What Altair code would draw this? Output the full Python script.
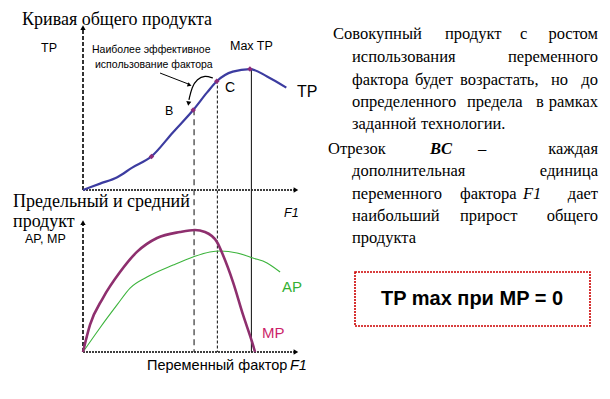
import altair as alt
import pandas as pd

# ---------------- data ----------------
tp_f1 = [0, 0.8, 1.6, 2.3, 3.2, 4.2, 5.15, 5.8, 6.25, 7.0, 7.8, 8.6, 9.5]
tp_val = [0, 4, 8, 14, 21, 36, 50, 61, 68, 74, 75.6, 71, 64]

tp_mark_f1 = [3.2, 5.15, 6.25, 7.8]
tp_mark_val = [21, 50, 68, 75.6]

mp_f1 = [0, 0.33, 0.93, 1.73, 2.52, 3.46, 4.53, 5.23, 5.7, 6.26, 6.54, 7.01, 7.48, 7.9, 8.04]
mp_val = [0, 21, 41.5, 61.5, 77, 87.7, 92.3, 93.8, 92.3, 84.6, 74.6, 53.8, 28.5, 7.7, 0]

ap_f1 = [0, 0.79, 1.59, 2.2, 2.99, 4.21, 5.14, 5.93, 6.4, 7.2, 7.94, 8.6, 9.21]
ap_val = [0, 18.5, 36.2, 49.2, 57.7, 66.9, 73.1, 76.9, 77.7, 76.2, 72.3, 68.5, 61.5]

guide_names = ["B", "C", "Max"]
guide_f1 = [5.19, 6.28, 7.87]
guide_tp = [50.5, 68.5, 75.6]

# annotation arrows (in F1 / TP units)
arrow1_f1 = [3.6, 4.91]
arrow1_tp = [73.1, 66.3]
arrow2_f1 = [6.07, 5.70, 5.33, 5.09, 4.95]
arrow2_tp = [70, 71.6, 69.4, 64.4, 56.3]

paragraph_lines = [
    ["Совокупный", "продукт", "с", "ростом"],
    ["использования", "переменного"],
    ["фактора", "будет", "возрастать,", "но", "до"],
    ["определенного", "предела", "в", "рамках"],
    ["заданной", "технологии."],
    ["Отрезок", "BC", "–", "каждая"],
    ["дополнительная", "единица"],
    ["переменного", "фактора", "F1", "дает"],
    ["наибольший", "прирост", "общего"],
    ["продукта"],
]

# ---------------- layout (pixels) ----------------
W, H = 594, 383
OFF = 8
XS = dict(domain=[0, 10], range=[75, 289])
YT = dict(domain=[0, 100], range=[182, 22])
YB = dict(domain=[0, 100], range=[344, 214])
BOTTOM_PX = 344

line_base = [39, 62, 85, 107, 129, 154, 176, 199, 221, 243]
word_x = [
    [333, 445, 520, None],
    [352, None],
    [352, 415, 460, 551, None],
    [352, 467, 536, None],
    [352, 421],
    [328, 430, 478, None],
    [352, None],
    [352, 460, 523, None],
    [352, 460, None],
    [352],
]
word_style = {(5, 1): "bolditalic", (7, 2): "italic"}
RIGHT_EDGE = 598


def X(field):
    return alt.X(field, type="quantitative", scale=alt.Scale(**XS), axis=None)


def Y(field, sc):
    return alt.Y(field, type="quantitative", scale=alt.Scale(**sc), axis=None)


df_tp = pd.DataFrame({"F1": tp_f1, "v": tp_val})
df_tpm = pd.DataFrame({"F1": tp_mark_f1, "v": tp_mark_val})
df_mp = pd.DataFrame({"F1": mp_f1, "v": mp_val})
df_ap = pd.DataFrame({"F1": ap_f1, "v": ap_val})
df_g = pd.DataFrame({"name": guide_names, "F1": guide_f1, "v": guide_tp})

layers = []

# axes (dashed, with arrow heads)
ax_x = pd.DataFrame({"a": [0], "b": [9.85], "v": [0]})
for sc, top in [(YT, 100), (YB, 98)]:
    layers.append(
        alt.Chart(pd.DataFrame({"F1": [0], "lo": [0], "hi": [top]}))
        .mark_rule(color="black", strokeWidth=1.6, strokeDash=[4, 2])
        .encode(x=X("F1"), y=Y("lo", sc), y2="hi")
    )
    layers.append(
        alt.Chart(ax_x)
        .mark_rule(color="black", strokeWidth=1.6, strokeDash=[2, 1])
        .encode(x=X("a"), x2="b", y=Y("v", sc))
    )
    layers.append(
        alt.Chart(pd.DataFrame({"F1": [0], "v": [top + 1.5]}))
        .mark_point(shape="triangle-up", filled=True, color="black", size=28, opacity=1)
        .encode(x=X("F1"), y=Y("v", sc))
    )
    layers.append(
        alt.Chart(pd.DataFrame({"F1": [9.95], "v": [0]}))
        .mark_point(shape="triangle-right", filled=True, color="black", size=28, opacity=1)
        .encode(x=X("F1"), y=Y("v", sc))
    )

# vertical guide lines
dash = {"B": [6, 4], "C": [3, 2], "Max": [1, 0]}
for name in guide_names:
    layers.append(
        alt.Chart(df_g[df_g["name"] == name])
        .mark_rule(color="#222222", strokeWidth=1.1, strokeDash=dash[name])
        .encode(x=X("F1"), y=Y("v", YT), y2=alt.value(BOTTOM_PX))
    )

# curves
layers.append(
    alt.Chart(df_tp).mark_line(color="#3c3ca0", strokeWidth=2.2, interpolate="monotone")
    .encode(x=X("F1"), y=Y("v", YT))
)
layers.append(
    alt.Chart(df_tpm).mark_point(shape="diamond", filled=True, color="#8b2b7b", size=30, opacity=1)
    .encode(x=X("F1"), y=Y("v", YT))
)
layers.append(
    alt.Chart(df_ap).mark_line(color="#3cb43c", strokeWidth=1.1, interpolate="monotone")
    .encode(x=X("F1"), y=Y("v", YB))
)
layers.append(
    alt.Chart(df_mp).mark_line(color="#8e2f6e", strokeWidth=2.6, interpolate="monotone")
    .encode(x=X("F1"), y=Y("v", YB))
)

# annotation arrows
layers.append(
    alt.Chart(pd.DataFrame({"F1": arrow1_f1, "v": arrow1_tp, "o": [0, 1]}))
    .mark_line(color="black", strokeWidth=1)
    .encode(x=X("F1"), y=Y("v", YT), order="o:Q")
)
layers.append(
    alt.Chart(pd.DataFrame({"F1": arrow2_f1, "v": arrow2_tp, "o": list(range(len(arrow2_f1)))}))
    .mark_line(color="black", strokeWidth=1.2, interpolate="basis")
    .encode(x=X("F1"), y=Y("v", YT), order="o:Q")
)
layers.append(
    alt.Chart(pd.DataFrame({"F1": [4.98], "v": [65.6]}))
    .mark_point(shape="triangle-up", angle=110, filled=True, color="black", size=22, opacity=1)
    .encode(x=X("F1"), y=Y("v", YT))
)
layers.append(
    alt.Chart(pd.DataFrame({"F1": [4.93], "v": [54.0]}))
    .mark_point(shape="triangle-up", angle=188, filled=True, color="black", size=26, opacity=1)
    .encode(x=X("F1"), y=Y("v", YT))
)


def label(text, x, y, size, font="Liberation Sans", color="black", align="left",
          weight="normal", style="normal"):
    return (
        alt.Chart(pd.DataFrame({"t": [text]}))
        .mark_text(font=font, fontSize=size, color=color, align=align, baseline="alphabetic",
                   fontWeight=weight, fontStyle=style)
        .encode(x=alt.value(x - OFF), y=alt.value(y - OFF), text="t:N")
    )


SERIF = "Liberation Serif"
layers += [
    label("Кривая общего  продукта", 22, 25, 18, font=SERIF),
    label("TP", 41, 52, 12.5),
    label("Наиболее эффективное", 92, 53, 10.5),
    label("использование фактора", 95, 68, 10.5),
    label("Max TP", 230, 50, 12.5),
    label("C", 225, 92, 14),
    label("B", 165, 115, 12.5),
    label("TP", 297, 97, 16),
    label("F1", 284, 217, 12.5, style="italic"),
    label("Предельный и средний", 13, 207, 18, font=SERIF),
    label("продукт", 13, 227, 18, font=SERIF),
    label("AP, MP", 25, 243, 12.5),
    label("AP", 282, 292, 15, color="#33b033"),
    label("MP", 262, 338, 15, color="#cc1f6b"),
    label("Переменный фактор", 147, 370, 14.5),
    label("F1", 290, 370, 14.5, style="italic"),
]

# right-hand paragraph (justified by placing words)
rows = []
for li, words in enumerate(paragraph_lines):
    for wi, w in enumerate(words):
        xv = word_x[li][wi]
        align = "left" if xv is not None else "right"
        px = (xv if xv is not None else RIGHT_EDGE) - OFF
        rows.append({"w": w, "px": px, "py": line_base[li] - OFF,
                     "style": word_style.get((li, wi), "normal"), "align": align})
df_words = pd.DataFrame(rows)
for (st, al), grp in df_words.groupby(["style", "align"]):
    layers.append(
        alt.Chart(grp)
        .mark_text(font=SERIF, fontSize=16.5, align=al, baseline="alphabetic", color="black",
                   fontWeight="bold" if "bold" in st else "normal",
                   fontStyle="italic" if "italic" in st else "normal")
        .encode(x=alt.X("px:Q", scale=None, axis=None), y=alt.Y("py:Q", scale=None, axis=None),
                text="w:N")
    )

# boxed statement
layers.append(
    alt.Chart(pd.DataFrame({"k": [0]}))
    .mark_rect(fill="white", stroke="#cc0000", strokeWidth=1.6, strokeDash=[2, 1])
    .encode(x=alt.value(355 - OFF), x2=alt.value(590 - OFF), y=alt.value(272 - OFF),
            y2=alt.value(326 - OFF))
)
layers.append(label("TP max при MP = 0", 472, 305, 20, align="center", weight="bold"))

chart = (
    alt.layer(*layers)
    .resolve_scale(x="independent", y="independent")
    .properties(width=W, height=H, autosize=alt.AutoSizeParams(type="none"), padding=0,
                background="white")
    .configure_view(stroke=None)
)

chart.save("out.html", embed_options={"renderer": "svg", "actions": False})
